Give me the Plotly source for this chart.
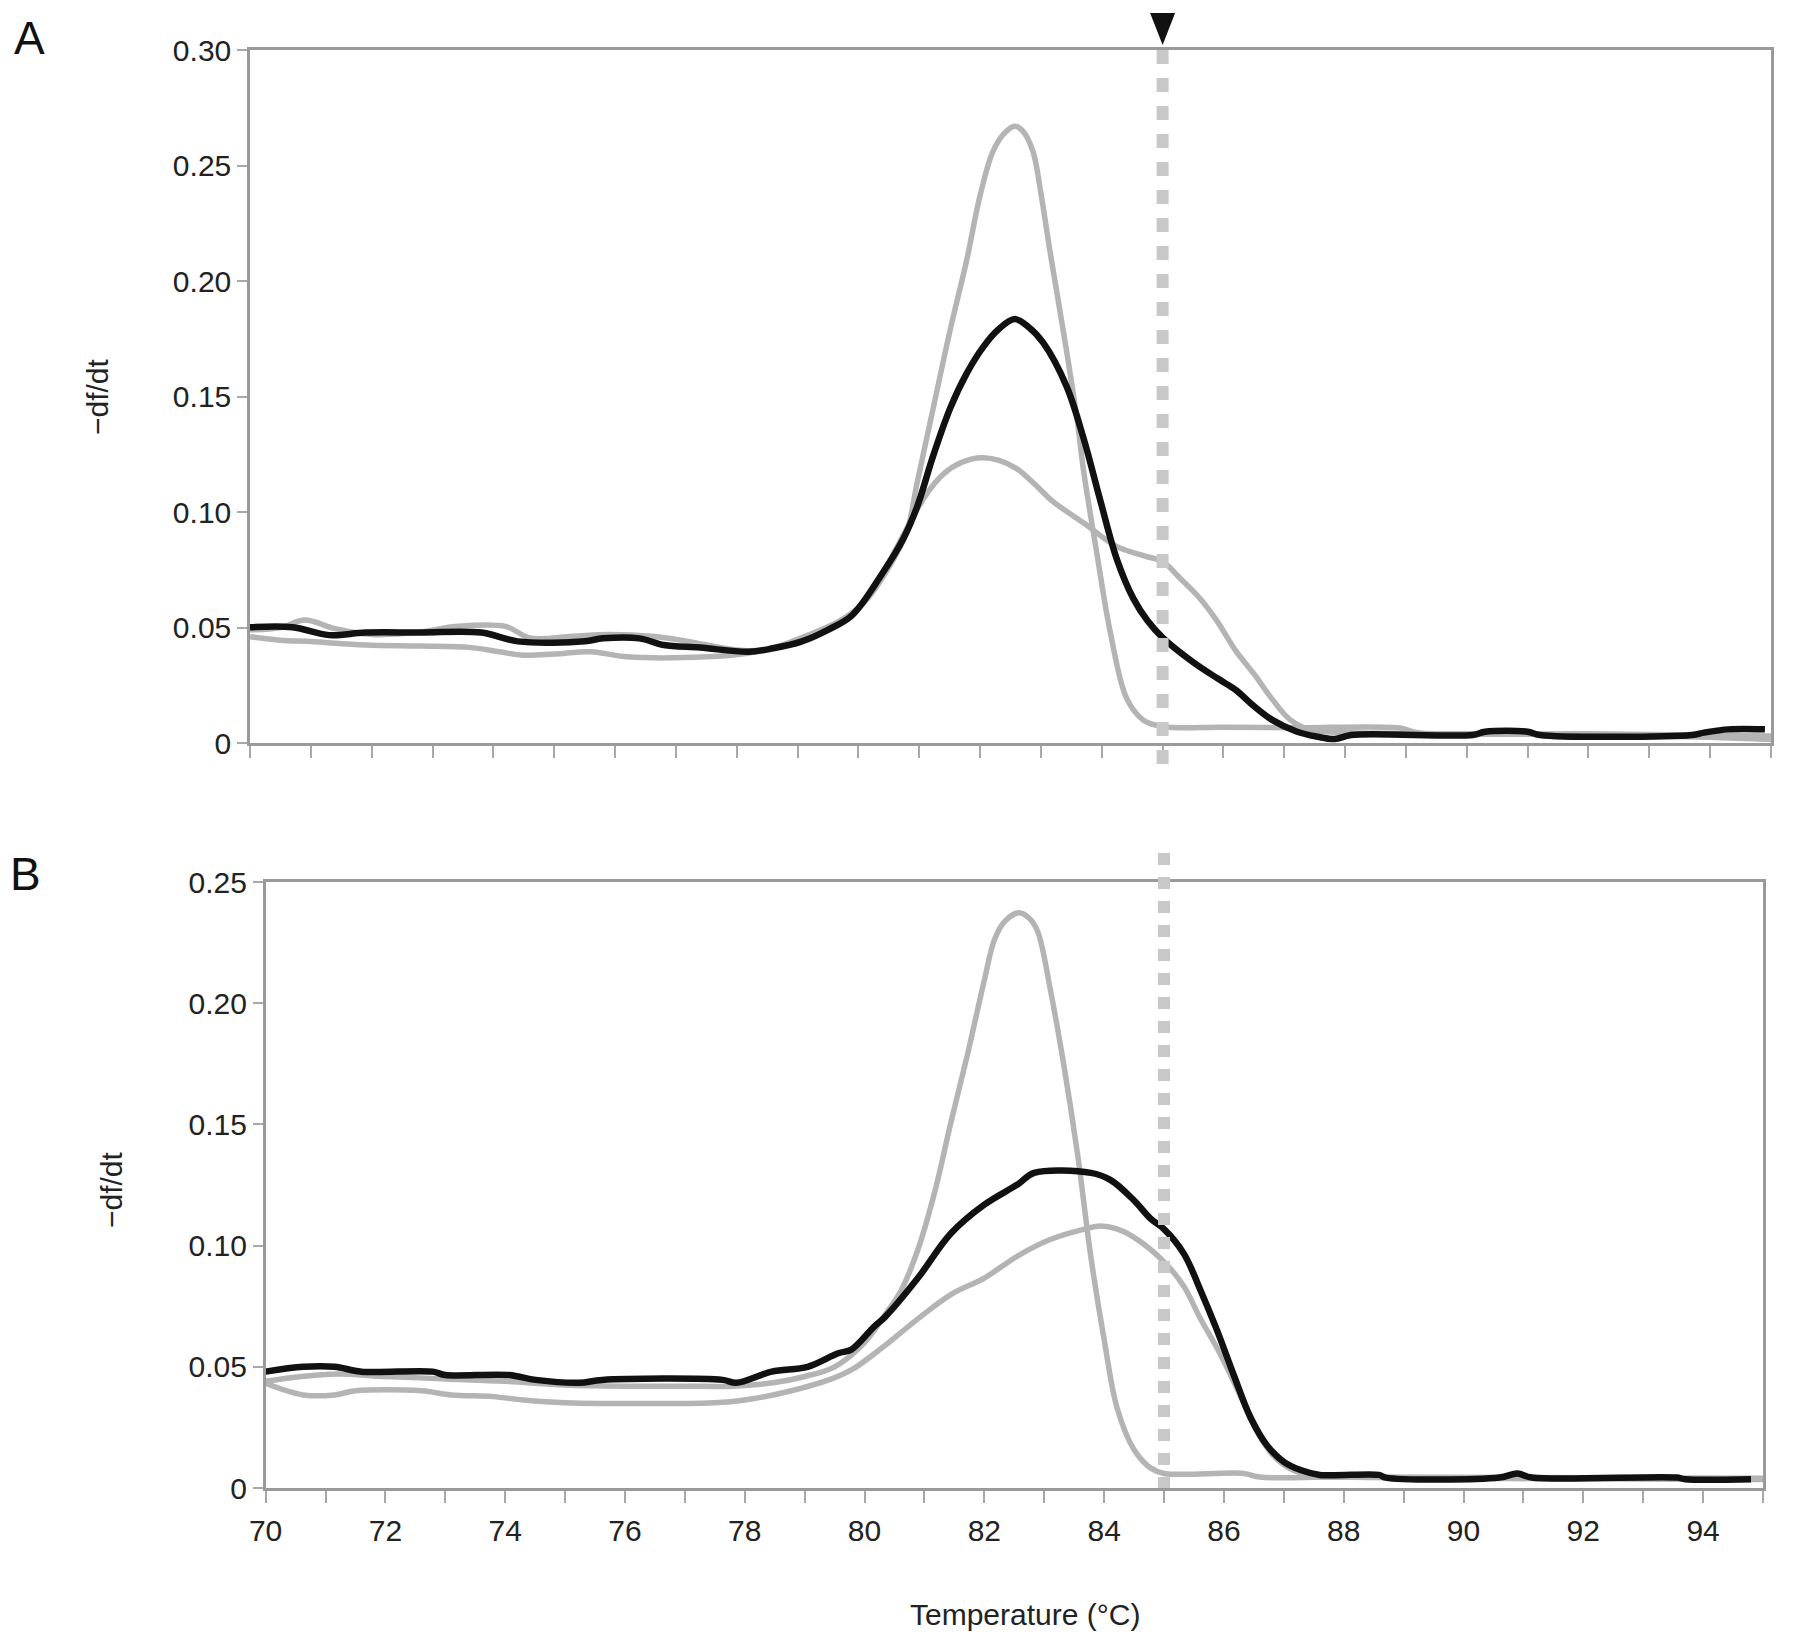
import plotly.graph_objects as go

# ---- panel A : -df/dt vs temperature ----
a_black_t = [70.0, 70.7, 71.3, 71.9, 72.8, 73.8, 74.4, 75.5, 75.8, 76.4, 76.8, 77.4, 78.2, 78.6,
             79.06, 79.5, 79.9, 80.4, 80.73, 80.96, 81.23, 81.51, 81.78, 82.05, 82.3, 82.57, 82.8,
             83.04, 83.42, 83.7, 83.97, 84.25, 84.52, 84.75, 85.0, 85.5, 85.9, 86.2, 86.5, 86.8,
             87.2, 87.53, 87.83, 88.1, 90.1, 90.3, 91.0, 91.2, 93.7, 93.9, 94.3, 94.9]
a_black_v = [0.0501, 0.0501, 0.0467, 0.0478, 0.0478, 0.0478, 0.0440, 0.0440, 0.0453, 0.0453, 0.0424,
             0.0413, 0.0395, 0.0410, 0.0439, 0.0490, 0.0554, 0.0737, 0.0880, 0.1019, 0.1244, 0.1450,
             0.1600, 0.1714, 0.1790, 0.1835, 0.1800, 0.1732, 0.1545, 0.1320, 0.1056, 0.0794, 0.0625,
             0.0530, 0.0456, 0.0350, 0.0280, 0.0230, 0.0160, 0.0100, 0.0050, 0.0028, 0.0017, 0.0035,
             0.0035, 0.0049, 0.0049, 0.0035, 0.0035, 0.0045, 0.0059, 0.0059]

a_broad_t = [70.0, 70.5, 70.9, 71.4, 72.0, 72.8, 73.4, 74.2, 74.6, 75.3, 75.9, 76.6, 77.2, 77.8, 78.3,
             78.8, 79.3, 79.9, 80.4, 80.8, 81.1, 81.4, 81.7, 82.0, 82.3, 82.6, 82.9, 83.2, 83.7,
             84.25, 84.7, 85.0, 85.3, 85.6, 85.89, 86.2, 86.5, 86.8, 87.1, 87.4, 88.0, 90.0,
             92.0, 94.0, 95.0]
a_broad_v = [0.0490, 0.0500, 0.0532, 0.0495, 0.0470, 0.0480, 0.0505, 0.0505, 0.0455, 0.0462, 0.0470,
             0.0462, 0.0440, 0.0410, 0.0400, 0.0425, 0.0470, 0.0554, 0.0737, 0.0930, 0.1070, 0.1165,
             0.1215, 0.1235, 0.1225, 0.1188, 0.1120, 0.1045, 0.0953, 0.0850, 0.0810, 0.0785,
             0.0710, 0.0630, 0.0530, 0.0400, 0.0300, 0.0190, 0.0100, 0.0060, 0.0045, 0.0040, 0.0035,
             0.0025, 0.0015]

a_tall_t = [70.0, 70.5, 71.0, 71.9, 72.8, 73.6, 74.1, 74.5, 75.0, 75.6, 76.2, 77.5, 78.2, 78.7, 79.2,
            79.7, 80.1, 80.5, 80.8, 80.96, 81.23, 81.51, 81.78, 82.0, 82.21, 82.4, 82.57, 82.7, 82.87,
            83.0, 83.15, 83.42, 83.6, 83.7, 83.92, 84.14, 84.41, 84.68, 85.0, 86.0, 87.2, 88.9, 89.2,
            92.0, 95.0]
a_tall_v = [0.0460, 0.0445, 0.0439, 0.0424, 0.0420, 0.0414, 0.0395, 0.0380, 0.0385, 0.0395, 0.0373,
            0.0373, 0.0390, 0.0420, 0.0470, 0.0530, 0.0610, 0.0760, 0.0920, 0.1120, 0.1450, 0.1790,
            0.2090, 0.2370, 0.2560, 0.2640, 0.2670, 0.2650, 0.2560, 0.2380, 0.2127, 0.1700, 0.1390,
            0.1180, 0.0820, 0.0480, 0.0193, 0.0100, 0.0071, 0.0068, 0.0066, 0.0065, 0.0045, 0.0040,
            0.0030]

# ---- panel B ----
b_black_t = [70.0, 70.63, 71.15, 71.6, 72.79, 73.0, 74.06, 74.51, 75.24, 75.62, 77.63, 77.86, 78.45,
             79.05, 79.56, 79.78, 80.16, 80.34, 80.89, 81.44, 82.0, 82.56, 82.83, 83.78, 84.11, 84.5,
             84.78, 85.0, 85.33, 85.61, 85.89, 86.17, 86.44, 86.72, 87.0, 87.28, 87.6, 88.59, 88.7,
             90.6, 90.9, 91.14, 93.57, 93.7, 94.8]
b_black_v = [0.0480, 0.0500, 0.0500, 0.0480, 0.0480, 0.0466, 0.0466, 0.0446, 0.0434, 0.0446, 0.0446,
             0.0434, 0.0480, 0.0500, 0.0556, 0.0571, 0.0666, 0.0705, 0.0866, 0.1050, 0.1169, 0.1253,
             0.1300, 0.1300, 0.1270, 0.1186, 0.1110, 0.1068, 0.0967, 0.0815, 0.0647, 0.0462, 0.0293,
             0.0175, 0.0108, 0.0074, 0.0054, 0.0054, 0.0043, 0.0043, 0.0060, 0.0043, 0.0043, 0.0036,
             0.0036]

b_broad_t = [70.0, 70.63, 71.15, 71.5, 72.6, 73.1, 73.8, 74.3, 75.0, 77.5, 78.0, 78.71, 79.45, 79.8,
             80.3, 80.9, 81.44, 82.0, 82.56, 83.11, 83.67, 83.94, 84.2, 84.5, 85.0, 85.33, 85.61,
             85.9, 86.2, 86.5, 86.8, 87.1, 87.5, 88.0, 95.0]
b_broad_v = [0.0432, 0.0384, 0.0384, 0.0401, 0.0401, 0.0384, 0.0377, 0.0363, 0.0352, 0.0352, 0.0363,
             0.0397, 0.0450, 0.0490, 0.0580, 0.0700, 0.0798, 0.0866, 0.0958, 0.1026, 0.1068, 0.1081,
             0.1070, 0.1034, 0.0933, 0.0832, 0.0697, 0.0570, 0.0420, 0.0260, 0.0140, 0.0080, 0.0050,
             0.0045, 0.0035]

b_tall_t = [70.0, 70.6, 71.2, 72.0, 73.0, 74.0, 75.0, 76.0, 77.0, 77.8, 78.5, 79.0, 79.5, 80.0, 80.34,
            80.61, 80.89, 81.17, 81.44, 81.72, 82.0, 82.17, 82.35, 82.58, 82.75, 82.89, 83.11, 83.33,
            83.56, 83.78, 84.0, 84.22, 84.5, 84.78, 85.0, 86.33, 86.6, 88.0, 95.0]
b_tall_v = [0.0440, 0.0460, 0.0470, 0.0460, 0.0450, 0.0440, 0.0425, 0.0420, 0.0420, 0.0420, 0.0435,
            0.0460, 0.0500, 0.0600, 0.0714, 0.0815, 0.0983, 0.1220, 0.1506, 0.1790, 0.2095, 0.2263,
            0.2340, 0.2373, 0.2350, 0.2296, 0.2045, 0.1740, 0.1370, 0.0950, 0.0613, 0.0327, 0.0158,
            0.0082, 0.0060, 0.0060, 0.0045, 0.0045, 0.0040]

marker_temp = 85.0

x_tick_vals = list(range(70, 96))
x_tick_text = ["70", "", "72", "", "74", "", "76", "", "78", "", "80", "", "82", "", "84", "",
               "86", "", "88", "", "90", "", "92", "", "94", ""]
a_ytick_vals = [0, 0.05, 0.10, 0.15, 0.20, 0.25, 0.30]
a_ytick_text = ["0", "0.05", "0.10", "0.15", "0.20", "0.25", "0.30"]
b_ytick_vals = [0, 0.05, 0.10, 0.15, 0.20, 0.25]
b_ytick_text = ["0", "0.05", "0.10", "0.15", "0.20", "0.25"]

W, H = 1779, 1627   # page body keeps an 8px margin
GRAY = "#b4b4b4"
BLACK = "#111111"
FONT = "Liberation Sans, Arial, sans-serif"


def px(x):
    return (x - 8) / W


def py(y):
    return 1 - (y - 8) / H


def curve(t, v, xa, ya, color, width):
    return go.Scatter(x=t, y=v, mode="lines", xaxis=xa, yaxis=ya,
                      line=dict(color=color, width=width, shape="spline", smoothing=1.0))


fig = go.Figure()
fig.add_trace(curve(a_broad_t, a_broad_v, "x", "y", GRAY, 5.5))
fig.add_trace(curve(a_tall_t, a_tall_v, "x", "y", GRAY, 5.5))
fig.add_trace(curve(a_black_t, a_black_v, "x", "y", BLACK, 6.5))
fig.add_trace(curve(b_broad_t, b_broad_v, "x2", "y2", GRAY, 5.5))
fig.add_trace(curve(b_tall_t, b_tall_v, "x2", "y2", GRAY, 5.5))
fig.add_trace(curve(b_black_t, b_black_v, "x2", "y2", BLACK, 6.5))

axis_common = dict(showline=True, mirror=True, linecolor="#9a9a9a", linewidth=2.5,
                   showgrid=False, zeroline=False, ticks="outside", tickcolor="#a8a8a8",
                   tickwidth=2, automargin=False,
                   tickfont=dict(family=FONT, size=30, color="#222222"))

fig.update_layout(
    width=W, height=H,
    margin=dict(l=0, r=0, t=0, b=0, pad=0, autoexpand=False),
    paper_bgcolor="white", plot_bgcolor="white",
    showlegend=False,
    xaxis=dict(axis_common, domain=[px(250), px(1771)], range=[70, 95], anchor="y",
               tickvals=x_tick_vals, showticklabels=False, ticklen=12),
    yaxis=dict(axis_common, domain=[py(743), py(50)], range=[0, 0.30], anchor="x",
               tickvals=a_ytick_vals, ticktext=a_ytick_text, ticklen=10),
    xaxis2=dict(axis_common, domain=[px(265.6), px(1763)], range=[70, 95], anchor="y2",
                tickvals=x_tick_vals, ticktext=x_tick_text, ticklen=12, ticklabelstandoff=2),
    yaxis2=dict(axis_common, domain=[py(1488), py(882)], range=[0, 0.25], anchor="x2",
                tickvals=b_ytick_vals, ticktext=b_ytick_text, ticklen=10),
)

fig.add_shape(type="line", xref="x", yref="paper", x0=marker_temp, x1=marker_temp,
              y0=py(50), y1=py(769), layer="above",
              line=dict(color="#c8c8c8", width=12, dash="14px,14px"))
fig.add_shape(type="line", xref="x2", yref="paper", x0=marker_temp, x1=marker_temp,
              y0=py(853), y1=py(1488), layer="above",
              line=dict(color="#c8c8c8", width=12, dash="12px,12px"))
half = 12.5 / 60.84
fig.add_shape(type="path", xref="x", yref="paper",
              path="M %f,%f L %f,%f L %f,%f Z" % (marker_temp - half, py(13), marker_temp + half,
                                                   py(13), marker_temp, py(45)),
              fillcolor="#111111", line=dict(width=0))

ann_font = dict(family=FONT, size=30, color="#222222")
labels = [(97, 397, "\u2212df/dt", -90, ann_font),
          (111, 1190, "\u2212df/dt", -90, ann_font),
          (1025, 1614, "Temperature (\u00b0C)", 0, ann_font),
          (29, 38, "A", 0, dict(family=FONT, size=46, color="#111111")),
          (25, 874, "B", 0, dict(family=FONT, size=46, color="#111111"))]
for lx, ly, txt, ang, fnt in labels:
    fig.add_annotation(x=px(lx), y=py(ly), xref="paper", yref="paper", text=txt,
                       textangle=ang, showarrow=False, font=fnt,
                       xanchor="center", yanchor="middle")

fig.write_html("out.html")
